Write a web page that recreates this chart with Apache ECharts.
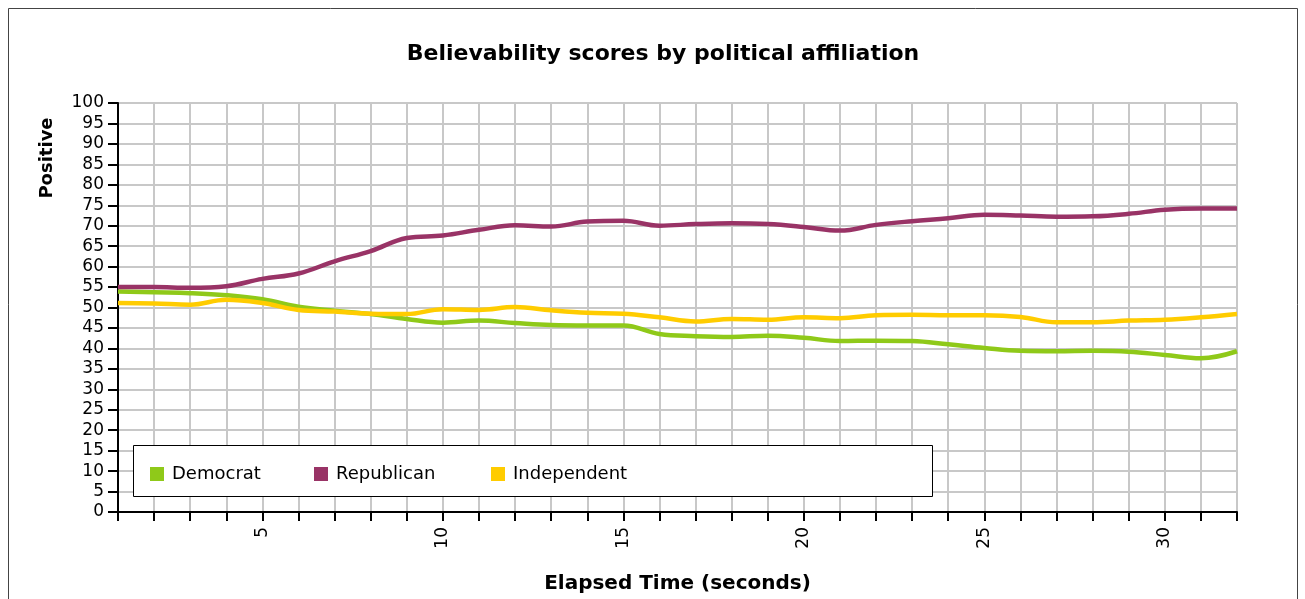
<!DOCTYPE html>
<html>
<head>
<meta charset="utf-8">
<script src="https://cdn.jsdelivr.net/npm/echarts@6/dist/echarts.min.js"></script>
<style>
html,body{margin:0;padding:0;background:#fff;}
#chart{width:1305px;height:599px;}
</style>
</head>
<body>
<div id="chart"></div>
<script>
const times = [1,2,3,4,5,6,7,8,9,10,11,12,13,14,15,16,17,18,19,20,21,22,23,24,25,26,27,28,29,30,31,32];
const democrat = [53.9,53.7,53.5,53.0,52.0,50.2,49.2,48.4,47.2,46.3,46.8,46.2,45.7,45.6,45.6,43.5,43.0,42.8,43.1,42.6,41.8,41.9,41.8,41.0,40.1,39.4,39.3,39.4,39.2,38.4,37.6,39.3];
const republican = [55.0,55.0,54.8,55.2,57.0,58.3,61.3,63.8,67.0,67.6,69.0,70.1,69.8,71.0,71.2,70.0,70.4,70.6,70.4,69.7,68.8,70.2,71.1,71.8,72.7,72.5,72.2,72.3,72.9,73.9,74.2,74.2];
const independent = [51.1,51.0,50.7,51.9,51.1,49.4,49.0,48.5,48.4,49.6,49.4,50.1,49.3,48.7,48.5,47.6,46.6,47.2,47.0,47.6,47.4,48.1,48.2,48.1,48.1,47.7,46.4,46.4,46.8,47.0,47.6,48.4];
const seriesNames = ['Democrat','Republican','Independent'];
const colors = ['#8fc919','#993366','#ffcc00'];

const FONT = '"DejaVu Sans", Verdana, sans-serif';
const chart = echarts.init(document.getElementById('chart'));
const pairs = arr => times.map((t,i)=>[t,arr[i]]);
const allData = [democrat, republican, independent];

const legendLefts = [150, 314, 491];
const option = {
  animation:false,
  backgroundColor:'#fff',
  title:{
    text:'Believability scores by political affiliation',
    left:658, top:38, textAlign:'center',
    textStyle:{fontFamily:FONT,fontSize:22,fontWeight:'bold',color:'#000'}
  },
  graphic:[
    {type:'rect',shape:{x:8.5,y:8.5,width:1289,height:620},style:{fill:'none',stroke:'#444',lineWidth:1},z:0,silent:true},
    {type:'rect',shape:{x:133.5,y:445.5,width:799,height:51},style:{fill:'#fff',stroke:'#000',lineWidth:1},z:3,silent:true},
    {type:'text',x:47,y:158,rotation:Math.PI/2,style:{text:'Positive',font:'bold 18px '+FONT,fill:'#000',textAlign:'center',textVerticalAlign:'middle'},z:5}
  ],
  legend: seriesNames.map((n,i)=>({
    data:[n], left:legendLefts[i], top:465, padding:0, itemWidth:14, itemHeight:14, icon:'rect', itemGap:8,
    textStyle:{fontFamily:FONT,fontSize:18,color:'#000',padding:[0,0,0,3]}, z:5, selectedMode:false
  })),
  grid:{left:118,right:68,top:103,bottom:83,containLabel:false},
  xAxis:{
    type:'value',min:1,max:32,interval:1,
    name:'Elapsed Time (seconds)',nameLocation:'middle',nameGap:62,
    nameTextStyle:{fontFamily:FONT,fontSize:20,fontWeight:'bold',color:'#000'},
    axisLine:{show:true,onZero:false,lineStyle:{color:'#000',width:2}},
    axisTick:{show:true,length:9,lineStyle:{color:'#000',width:2}},
    axisLabel:{rotate:90,margin:15,fontFamily:FONT,fontSize:17,color:'#000',
      formatter:v=> (v%5===0 ? String(v) : '')},
    splitLine:{show:true,lineStyle:{color:'#c8c8c8',width:2}}
  },
  yAxis:{
    type:'value',min:0,max:100,interval:5,
    axisLine:{show:true,lineStyle:{color:'#000',width:2}},
    axisTick:{show:true,length:10,lineStyle:{color:'#000',width:2}},
    axisLabel:{margin:14,fontFamily:FONT,fontSize:17,color:'#000'},
    splitLine:{show:true,lineStyle:{color:'#c8c8c8',width:2}}
  },
  series: seriesNames.map((n,i)=>({
    name:n,type:'line',data:pairs(allData[i]),smooth:0.4,showSymbol:false,symbol:'none',
    lineStyle:{color:colors[i],width:4.5},itemStyle:{color:colors[i]},z:2
  }))
};
chart.setOption(option);
</script>
</body>
</html>
